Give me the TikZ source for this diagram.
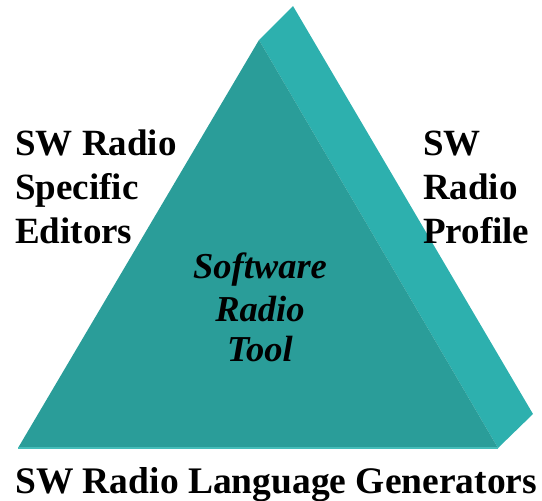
\documentclass[tikz,border=0pt]{standalone}
\usepackage{fontspec}
\setmainfont{Liberation Serif}
\definecolor{frontc}{HTML}{2A9D99}
\definecolor{sidec}{HTML}{2DB0AE}
\definecolor{edgec}{HTML}{45BDB9}
\begin{document}
\begin{tikzpicture}[x=1pt,y=-1pt,
  lbl/.style={anchor=base west,inner sep=0pt,font=\fontsize{37}{44}\selectfont\bfseries},
  ctr/.style={anchor=base,inner sep=0pt,font=\fontsize{36.5}{42}\selectfont\bfseries\itshape}]
\useasboundingbox (0,0) rectangle (542,501);
\coordinate (bl) at (18,448);
\coordinate (ap) at (259,40);
\coordinate (br) at (498,448);
\coordinate (bap) at (293,6);
\coordinate (bbr) at (533,414);
\fill[sidec] (ap) -- (bap) -- (bbr) -- (br) -- cycle;
\fill[frontc] (bl) -- (ap) -- (br) -- cycle;
\draw[edgec,line width=1.5pt] (bl) -- (br);
\node[lbl] (l1) at (15,155) {SW Radio};
\node[lbl] (l2) at (15,199) {Specific};
\node[lbl] (l3) at (15,243) {Editors};
\node[lbl] (r1) at (423,155) {SW};
\node[lbl] (r2) at (423,199) {Radio};
\node[lbl] (r3) at (423,243) {Profile};
\node[ctr] (c1) at (260,278) {Software};
\node[ctr] (c2) at (260,321) {Radio};
\node[ctr] (c3) at (260,361) {Tool};
\node[lbl,font=\fontsize{37.5}{44}\selectfont\bfseries] (b1) at (15,493) {SW Radio Language Generators};
\end{tikzpicture}
\end{document}
